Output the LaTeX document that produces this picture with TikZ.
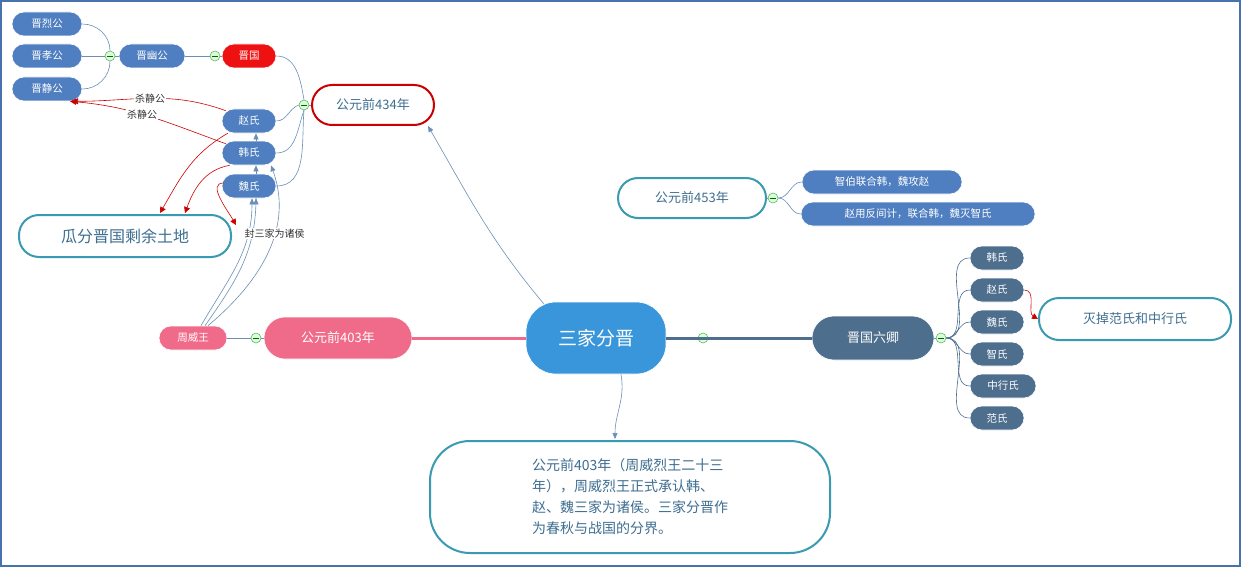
\documentclass[tikz,border=0pt]{standalone}
\usepackage{fontspec}
\setmainfont{Noto Sans CJK SC}
\usetikzlibrary{arrows.meta}
\definecolor{nblue}{HTML}{4F7FC0}
\definecolor{nred}{HTML}{EE1111}
\definecolor{teal}{HTML}{3A9AB0}
\definecolor{pinkc}{HTML}{F06B8A}
\definecolor{slate}{HTML}{4E6E8E}
\definecolor{cblue}{HTML}{3A96DA}
\definecolor{lineb}{HTML}{6A8EB5}
\definecolor{txt}{HTML}{3E6E90}
\begin{document}
\begin{tikzpicture}[x=1pt,y=-1pt,
  pill/.style={rounded corners=12pt,minimum height=24pt,inner xsep=7pt,text=white,font=\fontsize{10.5}{12}\selectfont,draw=white,line width=0.6pt},
  bl/.style={pill,fill=nblue},
  sl/.style={pill,fill=slate},
  wb/.style={rounded corners=20pt,minimum height=40pt,fill=white,draw=teal,line width=2pt,text=txt,font=\fontsize{13}{15}\selectfont},
  col/.style={circle,minimum size=10pt,inner sep=0pt,fill=green!15,draw=green!50!black!60,line width=0.6pt,
    path picture={\draw[green!40!black,line width=0.6pt] ([xshift=-3pt]path picture bounding box.center)--([xshift=3pt]path picture bounding box.center);}},
  ln/.style={lineb,line width=0.6pt},
  ra/.style={red!80!black,line width=0.6pt,-{Triangle[length=6pt,width=6pt]}},
  ba/.style={cblue,line width=0.6pt,-{Triangle[length=6pt,width=5pt]}},
  lab/.style={font=\fontsize{10}{11}\selectfont,fill=white,inner sep=1pt,text=black!80}]
\useasboundingbox (0,0) rectangle (1241,567);
\draw[nblue!90!black,line width=2pt] (1,1) rectangle (1240,566);
% left top
\node[bl,minimum width=70pt] (lie) at (47,24) {晋烈公};
\node[bl,minimum width=70pt] (xiao) at (47,56) {晋孝公};
\node[bl,minimum width=70pt] (jing) at (47,89) {晋静公};
\node[col] (c1) at (110,56) {};
\node[bl,minimum width=66pt] (you) at (152,56) {晋幽公};
\node[col] (c2) at (215,56) {};
\node[pill,fill=nred,minimum width=54pt] (jin) at (249,56) {晋国};
\node[col] (c3) at (304,105) {};
\node[wb,draw=red!80!black,text=txt,minimum width=122pt] (y434) at (373,105) {公元前434年};
\node[bl,minimum width=54pt] (zhao) at (249,121) {赵氏};
\node[bl,minimum width=54pt] (han) at (249,153) {韩氏};
\node[bl,minimum width=54pt] (wei) at (249,186) {魏氏};
\node[wb,minimum width=212pt,minimum height=42pt,font=\fontsize{16}{18}\selectfont] (gua) at (125,236) {瓜分晋国剩余土地};
\node[pill,fill=pinkc,minimum width=68pt] (zwang) at (193,338) {周威王};
\node[col] (c4) at (256,338) {};
\node[pill,fill=pinkc,rounded corners=21pt,minimum width=148pt,minimum height=42pt,font=\fontsize{13}{15}\selectfont] (y403) at (338,338) {公元前403年};
\node[pill,fill=cblue,rounded corners=30pt,minimum width=140pt,minimum height=72pt,font=\fontsize{19}{22}\selectfont] (ctr) at (596,338) {三家分晋};
\node[col] (c5) at (703,338) {};
\node[pill,fill=slate,rounded corners=22pt,minimum width=122pt,minimum height=44pt,font=\fontsize{13}{15}\selectfont] (liu) at (873,338) {晋国六卿};
\node[col] (c6) at (941,338) {};
\node[sl,minimum width=54pt] (r1) at (997,258) {韩氏};
\node[sl,minimum width=54pt] (r2) at (997,290) {赵氏};
\node[sl,minimum width=54pt] (r3) at (997,322) {魏氏};
\node[sl,minimum width=54pt] (r4) at (997,354) {智氏};
\node[sl,minimum width=66pt] (r5) at (1003,386) {中行氏};
\node[sl,minimum width=54pt] (r6) at (997,418) {范氏};
\node[wb,minimum width=192pt,minimum height=42pt] (mie) at (1135,319) {灭掉范氏和中行氏};
\node[wb,minimum width=148pt] (y453) at (692,198) {公元前453年};
\node[col] (c7) at (773,198) {};
\node[bl,minimum width=160pt] (z1) at (882,182) {智伯联合韩，魏攻赵};
\node[bl,minimum width=234pt] (z2) at (918,214) {赵用反间计，联合韩，魏灭智氏};
\node[wb,rounded corners=40pt,minimum width=400pt,minimum height=112pt,align=left,font=\fontsize{14}{21}\selectfont] (bot) at (630,497) {公元前403年（周威烈王二十三\\年），周威烈王正式承认韩、\\赵、魏三家为诸侯。三家分晋作\\为春秋与战国的分界。};
% tree lines
\draw[ln] (lie.east) to[out=0,in=90] (c1.north);
\draw[ln] (jing.east) to[out=0,in=-90] (c1.south);
\draw[ln] (xiao.east) -- (c1.west);
\draw[ln] (c1.east) -- (you.west);
\draw[ln] (you.east) -- (c2.west);
\draw[ln] (c2.east) -- (jin.west);
\draw[ln] (jin.east) to[out=0,in=100] (c3.north);
\draw[ln] (zhao.east) to[out=0,in=200] (c3.west);
\draw[ln] (han.east) to[out=0,in=250] (c3.south);
\draw[ln] (wei.east) to[out=0,in=265] (c3.south);
\draw[ln] (c3.east) -- (y434.west);
\draw[ln] (zwang.east) -- (c4.west);
\draw[ln] (c4.east) -- (y403.west);
\draw[pinkc,line width=3pt] (y403.east) -- (ctr.west);
\draw[slate,line width=3pt] (ctr.east) -- (liu.west);
\draw[ln] (liu.east) -- (c6.west);
\foreach \r in {r1,r2,r3,r4,r5,r6}{\draw[ln,slate] (c6.east) to[out=0,in=180] (\r.west);}
\draw[ln] (y453.east) -- (c7.west);
\draw[ln] (c7.east) to[out=0,in=180] (z1.west);
\draw[ln] (c7.east) to[out=0,in=180] (z2.west);
% arrows
\draw[ba,lineb] (ctr.north west) ++(18,2) to[out=130,in=-60] ([xshift=55pt]y434.south);
\draw[ba,lineb] (ctr.south) ++(25,0) to[out=-80,in=90] ([yshift=1pt]bot.north -| 615,0);
\draw[ra] (zhao.north west) ++(4,2) to[out=160,in=0] node[lab,pos=0.5]{杀静公} ([xshift=25pt]jing.south);
\draw[ra] (han.north west) ++(4,3) to[out=160,in=-5] node[lab,pos=0.55]{杀静公} ([xshift=23pt]jing.south);
\draw[ra] (zhao.south west) ++(6,0) to[out=210,in=60] (160,213);
\draw[ra] (han.south west) ++(8,0) to[out=190,in=70] (185,213);
\draw[ra] (wei.west) ++(2,-3) to[out=180,in=120] (236,225);
\draw[ba,lineb] ([xshift=8pt]zwang.north) to[out=60,in=-90] ([xshift=3pt]wei.south);
\draw[ba,lineb] ([xshift=12pt]zwang.north) to[out=55,in=-90] ([xshift=7pt]wei.south) ++(0,0);
\draw[ba,lineb] ([xshift=15pt]zwang.north) to[out=40,in=-70] node[lab,pos=0.62]{封三家为诸侯} ([xshift=22pt]han.south);
\draw[ba,lineb] ([xshift=7pt]han.north) -- ([xshift=7pt]zhao.south);
\draw[ba,lineb] ([xshift=7pt]wei.north) -- ([xshift=7pt]han.south);
\draw[ra] (r2.east) to[out=0,in=150] (mie.west);
\end{tikzpicture}
\end{document}
